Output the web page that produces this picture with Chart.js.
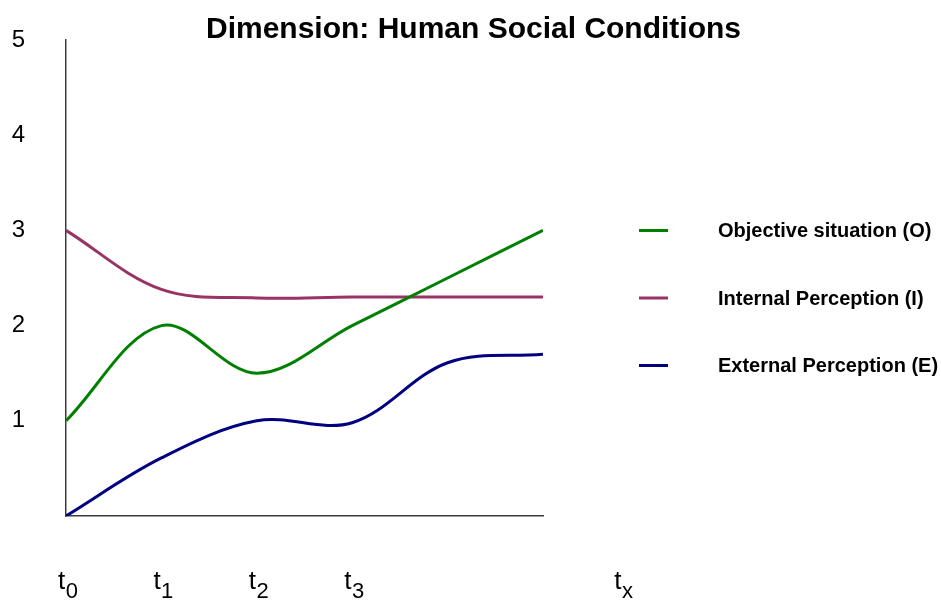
<!DOCTYPE html>
<html>
<head>
<meta charset="utf-8">
<script src="https://cdn.jsdelivr.net/npm/chart.js@4/dist/chart.umd.min.js"></script>
<style>
  html, body { margin: 0; padding: 0; background: #ffffff; }
  #wrap { width: 941px; height: 604px; position: relative; }
</style>
</head>
<body>
<div id="wrap"><canvas id="c" width="941" height="604"></canvas></div>
<script>
// Time steps along the horizontal axis
const steps = [0, 1, 2, 3, 4, 5];

// Series values per time step
const objectiveSituation = [1.0, 2.0, 1.5, 2.0, 2.5, 3.0];
const internalPerception = [3.0, 2.38, 2.29, 2.3, 2.3, 2.3];
const externalPerception = [0.0, 0.61, 1.0, 0.98, 1.61, 1.7];

// Series names
const seriesNames = ['Objective situation (O)', 'Internal Perception (I)', 'External Perception (E)'];

// Horizontal tick labels: "t" with a subscript, placed at these step values
const xTickBase = 't';
const xTickSubs = ['0', '1', '2', '3', 'x'];
const xTickAt = [0, 1, 2, 3, 5.83];

// Vertical tick values
const yTicks = [1, 2, 3, 4, 5];

const chartTitle = 'Dimension: Human Social Conditions';

const FONT = '"Liberation Sans", Arial, Helvetica, sans-serif';
const colors = ['#008000', '#993366', '#000080'];

function toPoints(values) {
  return steps.map((s, i) => ({ x: s, y: values[i] }));
}

const annotate = {
  id: 'annotate',
  afterDraw(chart) {
    const ctx = chart.ctx;
    const xs = chart.scales.x;
    ctx.save();

    // Title
    ctx.fillStyle = '#000';
    ctx.font = 'bold 30px ' + FONT;
    ctx.textAlign = 'center';
    ctx.textBaseline = 'alphabetic';
    ctx.fillText(chartTitle, 473.5, 38);

    // Time labels with subscripts
    ctx.textAlign = 'left';
    xTickSubs.forEach((sub, i) => {
      const px = xs.getPixelForValue(xTickAt[i]);
      const left = px - 8;
      ctx.font = '26px ' + FONT;
      ctx.fillText(xTickBase, left, 589);
      const w = ctx.measureText(xTickBase).width;
      ctx.font = '22px ' + FONT;
      ctx.fillText(sub, left + w + 0.5, 598);
    });

    // Legend
    chart.data.datasets.forEach((ds, i) => {
      const y = 230.5 + i * 67.5;
      ctx.strokeStyle = ds.borderColor;
      ctx.lineWidth = 3;
      ctx.beginPath();
      ctx.moveTo(639, y);
      ctx.lineTo(668, y);
      ctx.stroke();
      ctx.fillStyle = '#000';
      ctx.font = 'bold 20px ' + FONT;
      ctx.textBaseline = 'middle';
      ctx.fillText(ds.label, 718, y + 1);
    });

    ctx.restore();
  }
};

new Chart(document.getElementById('c'), {
  type: 'line',
  data: {
    datasets: [
      { label: seriesNames[0], data: toPoints(objectiveSituation), borderColor: colors[0] },
      { label: seriesNames[1], data: toPoints(internalPerception), borderColor: colors[1] },
      { label: seriesNames[2], data: toPoints(externalPerception), borderColor: colors[2] }
    ].map(d => Object.assign(d, {
      borderWidth: 3,
      pointRadius: 0,
      pointHoverRadius: 0,
      fill: false,
      tension: 0.35
    }))
  },
  options: {
    responsive: false,
    animation: false,
    devicePixelRatio: 1,
    layout: { padding: { left: 0, right: 398, top: 40, bottom: 0 } },
    plugins: {
      legend: { display: false },
      title: { display: false },
      tooltip: { enabled: false }
    },
    scales: {
      x: {
        type: 'linear',
        min: steps[0],
        max: steps[steps.length - 1],
        grid: { display: false, drawTicks: false },
        border: { display: true, color: '#3c3c3c', width: 1.5 },
        ticks: { display: false },
        afterFit(scale) {
          scale.height = 88;
          scale.paddingLeft = 0;
          scale.paddingRight = 0;
        }
      },
      y: {
        min: 0,
        max: 5,
        grid: { display: false, drawTicks: false },
        border: { display: true, color: '#3c3c3c', width: 1.5 },
        afterBuildTicks(scale) { scale.ticks = [0].concat(yTicks).map(v => ({ value: v })); },
        ticks: {
          padding: 41,
          color: '#000',
          font: { family: FONT, size: 24 },
          callback: v => (v === 0 ? '' : String(v))
        },
        afterFit(scale) {
          scale.width = 66;
          scale.paddingTop = 0;
          scale.paddingBottom = 0;
        }
      }
    }
  },
  plugins: [annotate]
});
</script>
</body>
</html>
